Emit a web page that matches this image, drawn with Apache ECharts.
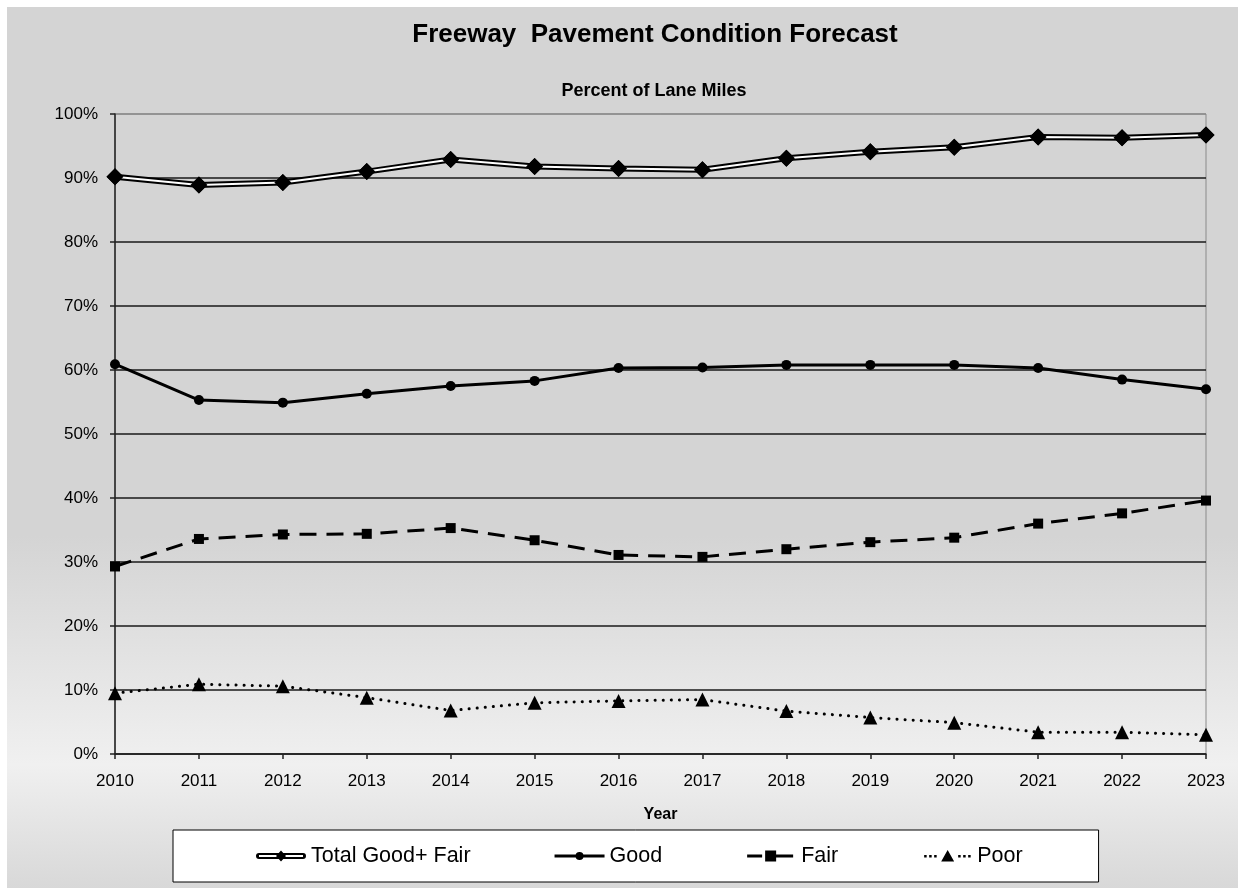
<!DOCTYPE html>
<html>
<head>
<meta charset="utf-8">
<script src="https://cdn.jsdelivr.net/npm/echarts@6/dist/echarts.min.js"></script>
<style>
html,body{margin:0;padding:0;background:#fff;}
#chart{width:1238px;height:888px;}
</style>
</head>
<body>
<div id="chart"></div>
<script>
const years = ['2010','2011','2012','2013','2014','2015','2016','2017','2018','2019','2020','2021','2022','2023'];
const totalGoodFair = [90.2, 88.9, 89.3, 91.0, 92.9, 91.8, 91.5, 91.3, 93.1, 94.1, 94.8, 96.4, 96.3, 96.7];
const good = [60.9, 55.3, 54.9, 56.3, 57.5, 58.3, 60.3, 60.4, 60.8, 60.8, 60.8, 60.3, 58.5, 57.0];
const fair = [29.3, 33.6, 34.3, 34.4, 35.3, 33.4, 31.1, 30.8, 32.0, 33.1, 33.8, 36.0, 37.6, 39.6];
const poor = [9.5, 10.9, 10.6, 8.8, 6.8, 8.0, 8.3, 8.5, 6.7, 5.7, 4.9, 3.4, 3.4, 3.0];
const yTicks = [0,10,20,30,40,50,60,70,80,90,100];

const FONT = 'Liberation Sans, Arial, sans-serif';
const chart = echarts.init(document.getElementById('chart'));

const splitColors = yTicks.map((v, i) => i === yTicks.length - 1 ? '#8a8a8a' : '#1a1a1a');

// legend icons drawn in a 50 x 16 box (degenerate corner points fix the box)
const BOX = 'M0,0 L0.01,0 Z M50,16 L49.99,16 Z ';
const totalIcon = 'path://' + BOX + 'M3,5 H47 A3,3 0 0 1 47,11 H3 A3,3 0 0 1 3,5 Z M3,7 V9 H47 V7 Z M25,2.5 L30,8 L25,13.5 L20,8 Z';
const goodIcon = 'path://' + BOX + 'M0,6.5 H50 V9.5 H0 Z M29,8 A4,4 0 1 1 21,8 A4,4 0 1 1 29,8 Z';
const fairIcon = 'path://' + BOX + 'M1,6.5 H16 V9.5 H1 Z M19,2.5 H30 V13.5 H19 Z M30,6.5 H47 V9.5 H30 Z';
const poorIcon = 'path://' + BOX + 'M2,7 H4.5 V9.5 H2 Z M7,7 H9.5 V9.5 H7 Z M12,7 H14.5 V9.5 H12 Z M25.5,2 L32,13.5 H19 Z M36,7 H38.5 V9.5 H36 Z M41,7 H43.5 V9.5 H41 Z M46,7 H48.5 V9.5 H46 Z';

chart.setOption({
  animation: false,
  graphic: [{
    type: 'rect',
    z: -10,
    shape: {x: 7, y: 7, width: 1231, height: 881},
    style: {
      fill: new echarts.graphic.LinearGradient(0, 0, 0, 1, [
        {offset: 0, color: '#d4d4d4'},
        {offset: 0.6, color: '#d4d4d4'},
        {offset: 0.86, color: '#f0f0f0'},
        {offset: 1, color: '#d8d8d8'}
      ])
    },
    silent: true
  }],
  title: [{
    text: 'Freeway  Pavement Condition Forecast',
    left: 650, top: 17, textAlign: 'center',
    textStyle: {fontFamily: FONT, fontSize: 26, fontWeight: 'bold', color: '#000'}
  }, {
    text: 'Percent of Lane Miles',
    left: 649, top: 77, textAlign: 'center',
    textStyle: {fontFamily: FONT, fontSize: 18, fontWeight: 'bold', color: '#000'}
  }],
  grid: {left: 115, right: 32, top: 114, bottom: 134, show: true, borderColor: '#8a8a8a', borderWidth: 1, backgroundColor: 'transparent'},
  legend: {
    left: 173, top: 830,
    orient: 'horizontal',
    padding: [15, 76, 15, 83],
    itemGap: 84,
    itemWidth: 50,
    itemHeight: 16,
    backgroundColor: '#fff',
    borderColor: '#000',
    borderWidth: 1,
    textStyle: {fontFamily: FONT, fontSize: 21.5, color: '#000'},
    data: [
      {name: 'Total Good+ Fair', icon: totalIcon},
      {name: 'Good', icon: goodIcon},
      {name: 'Fair', icon: fairIcon},
      {name: 'Poor', icon: poorIcon}
    ],
    itemStyle: {color: '#000', borderWidth: 0}
  },
  xAxis: {
    type: 'category',
    data: years,
    boundaryGap: false,
    name: 'Year',
    nameLocation: 'middle',
    nameGap: 53,
    nameTextStyle: {fontFamily: FONT, fontSize: 16, fontWeight: 'bold', color: '#000'},
    axisLine: {lineStyle: {color: '#222', width: 1.5}},
    axisTick: {show: true, length: 5, inside: false, lineStyle: {color: '#222', width: 1.5}},
    axisLabel: {fontFamily: FONT, fontSize: 17, color: '#000', margin: 19},
    splitLine: {show: false}
  },
  yAxis: {
    type: 'value',
    min: 0, max: 100, interval: 10,
    axisLine: {show: true, lineStyle: {color: '#222', width: 1.5}},
    axisTick: {show: true, length: 5, lineStyle: {color: '#222', width: 1.5}},
    axisLabel: {fontFamily: FONT, fontSize: 17, color: '#000', margin: 17, formatter: '{value}%'},
    splitLine: {show: true, lineStyle: {color: splitColors, width: 1.5}}
  },
  series: [
    {
      name: 'Total Good+ Fair',
      type: 'line',
      data: totalGoodFair,
      symbol: 'diamond', symbolSize: 17,
      itemStyle: {color: '#000'},
      lineStyle: {color: '#000', width: 6},
      z: 5
    },
    {
      name: 'Total inner',
      type: 'line',
      data: totalGoodFair,
      symbol: 'diamond', symbolSize: 17,
      itemStyle: {color: '#000'},
      lineStyle: {color: '#fff', width: 2},
      z: 6,
      silent: true
    },
    {
      name: 'Good',
      type: 'line',
      data: good,
      symbol: 'circle', symbolSize: 10,
      itemStyle: {color: '#000'},
      lineStyle: {color: '#000', width: 3}
    },
    {
      name: 'Fair',
      type: 'line',
      data: fair,
      symbol: 'rect', symbolSize: 10,
      itemStyle: {color: '#000'},
      lineStyle: {color: '#000', width: 3, type: [17, 10]}
    },
    {
      name: 'Poor',
      type: 'line',
      data: poor,
      symbol: 'triangle', symbolSize: 14,
      itemStyle: {color: '#000'},
      lineStyle: {color: '#000', width: 3, type: [0.1, 8], cap: 'round'}
    }
  ]
});
</script>
</body>
</html>
